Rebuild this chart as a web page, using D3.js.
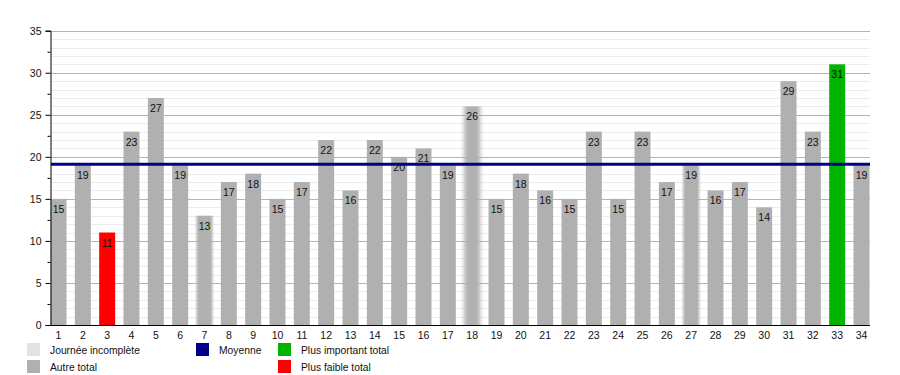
<!DOCTYPE html>
<html><head><meta charset="utf-8">
<script src="https://cdn.jsdelivr.net/npm/d3@7"></script>
<style>body{margin:0;background:#fff}svg{display:block;font-family:"Liberation Sans",Arial,sans-serif}</style>
</head><body><svg id="c" width="900" height="375"></svg>
<script>
const categories = d3.range(1, 35).map(String);
const values = [15,19,11,23,27,19,13,17,18,15,17,22,16,22,20,21,19,26,15,18,16,15,23,15,23,17,19,16,17,14,29,23,31,19];
const blurred = {"7":1.2, "18":2.0, "27":1.0};
const yTicks = [0,5,10,15,20,25,30,35];
const legendItems = [
  {label:"Journée incomplète", color:"#e3e3e3", col:0, row:0},
  {label:"Autre total", color:"#b0b0b0", col:0, row:1},
  {label:"Moyenne", color:"#00008b", col:1, row:0},
  {label:"Plus important total", color:"#00b400", col:2, row:0},
  {label:"Plus faible total", color:"#ff0000", col:2, row:1}
];
const mean = d3.mean(values);
const maxV = d3.max(values), minV = d3.min(values);

const svg = d3.select("#c");
const x = d3.scaleBand().domain(categories).range([50.5, 869.5]).paddingInner(0.343).paddingOuter(0).align(0);
const y = d3.scaleLinear().domain([0,35]).range([325, 30.7]);

const defs = svg.append("defs");
Object.entries(blurred).forEach(([k,s]) => {
  defs.append("filter").attr("id","b"+k).attr("x","-50%").attr("width","200%")
    .append("feGaussianBlur").attr("stdDeviation", s + " 0");
});

// grid
const g = svg.append("g");
g.selectAll(".minor").data(d3.range(1,35).filter(v=>v%5)).join("line")
  .attr("x1",51).attr("x2",870).attr("y1",d=>Math.round(y(d))+0.5).attr("y2",d=>Math.round(y(d))+0.5)
  .attr("stroke","#ececec");
g.selectAll(".major").data(yTicks.slice(1)).join("line")
  .attr("x1",51).attr("x2",870).attr("y1",d=>Math.round(y(d))+0.5).attr("y2",d=>Math.round(y(d))+0.5)
  .attr("stroke","#b4b4b4");

// bars
const colorOf = v => v===maxV ? "#00b400" : v===minV ? "#ff0000" : "#b0b0b0";
svg.append("g").selectAll("rect").data(values).join("rect")
  .attr("x",(d,i)=>x(categories[i])).attr("width",x.bandwidth())
  .attr("y",d=>y(d)).attr("height",d=>y(0)-y(d))
  .attr("fill",d=>colorOf(d))
  .attr("filter",(d,i)=>blurred[categories[i]]?`url(#b${categories[i]})`:null);

// mean line
svg.append("line").attr("x1",51).attr("x2",870).attr("y1",y(mean)).attr("y2",y(mean))
  .attr("stroke","#00008b").attr("stroke-width",3);

// labels
svg.append("g").selectAll("text").data(values).join("text")
  .attr("x",(d,i)=>x(categories[i])+x.bandwidth()/2).attr("y",d=>y(d)+14)
  .attr("text-anchor","middle").attr("font-size",10.5).attr("fill","#111").text(d=>d);

// y axis
const yAxis = svg.append("g").attr("transform","translate(50.5,0)")
  .call(d3.axisLeft(y).tickValues(yTicks).tickSize(5).tickPadding(4));
yAxis.selectAll(".tick text").attr("font-size",10.5).attr("fill","#111").attr("font-family","Liberation Sans, Arial, sans-serif");
yAxis.select(".domain").attr("stroke","#000");
svg.append("g").attr("transform","translate(50.5,0)")
  .call(d3.axisLeft(y).tickValues(d3.range(0,35,2.5).filter(v=>v%5)).tickSize(3).tickFormat(""))
  .select(".domain").remove();

// x axis
const xAxis = svg.append("g").attr("transform","translate(0,325.5)")
  .call(d3.axisBottom(x).tickSize(0).tickPadding(6).tickSizeOuter(0));
xAxis.selectAll(".tick text").attr("font-size",10.5).attr("fill","#111").attr("font-family","Liberation Sans, Arial, sans-serif");
xAxis.select(".domain").attr("stroke","#000").attr("d","M50.5,0H870");

// legend
const colX = [27, 196, 278], rowY = [343, 360];
const lg = svg.append("g").selectAll("g").data(legendItems).join("g")
  .attr("transform",d=>`translate(${colX[d.col]},${rowY[d.row]})`);
lg.append("rect").attr("width",13).attr("height",13).attr("fill",d=>d.color);
lg.append("text").attr("x",23).attr("y",11).attr("font-size",10.3).attr("fill","#111").text(d=>d.label);
</script></body></html>
